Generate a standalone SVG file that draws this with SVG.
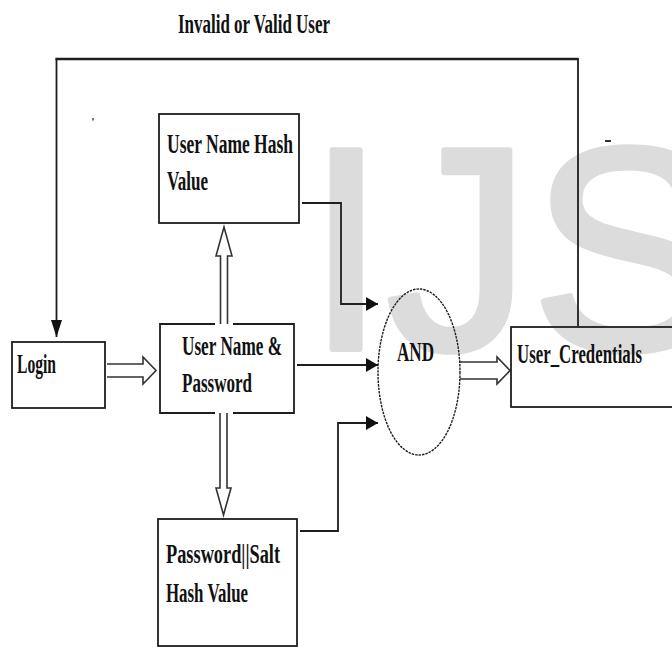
<svg xmlns="http://www.w3.org/2000/svg" width="672" height="647" viewBox="0 0 672 647">
<defs>
<style>
.box{fill:none;stroke:#1e1e1e;stroke-width:1.8}
.lbl{font-family:"Liberation Serif","Times New Roman",serif;font-weight:bold;font-size:27px;fill:#111}
.con{fill:none;stroke:#1e1e1e;stroke-width:1.8}
.hollow{fill:#fff;stroke:#333;stroke-width:1.6}
.wm{font-family:"Liberation Sans",Arial,sans-serif;font-size:289px;fill:#dcdcdc;stroke:#dcdcdc;stroke-width:6;stroke-linejoin:round}
</style>
<marker id="ah" markerUnits="userSpaceOnUse" markerWidth="13" markerHeight="15" refX="12" refY="7" orient="auto">
<path d="M0,0 L12,7 L0,14 z" fill="#111"/>
</marker>
<marker id="ahd" markerUnits="userSpaceOnUse" markerWidth="18" markerHeight="12" refX="17" refY="5.5" orient="auto">
<path d="M0,0 L17,5.5 L0,11 z" fill="#111"/>
</marker>
</defs>
<rect width="672" height="647" fill="#fff"/>
<text class="wm" x="306" y="349">IJS</text>
<rect x="92" y="118" width="2" height="2.5" fill="#777"/>
<rect x="605" y="140" width="6" height="2" fill="#333"/>

<text class="lbl" x="178" y="33" textLength="152" lengthAdjust="spacingAndGlyphs">Invalid or Valid User</text>

<g id="connectors">
<path class="con" d="M578,326 V59 H56.5 V337" marker-end="url(#ahd)"/>
<path d="M55.5,59 H578" stroke="#1e1e1e" stroke-width="2.6" fill="none"/>
<path class="con" d="M302,203 H341 V304 H378" marker-end="url(#ah)"/>
<path class="con" d="M297,365 H378" marker-end="url(#ah)"/>
<path class="con" d="M300,531 H338 V423 H378" marker-end="url(#ah)"/>
<path class="hollow" d="M107,364 H143 V357 L156,370.5 L143,384 V377 H107"/>
<rect x="215" y="321" width="18" height="6" fill="#fff"/>
<path class="hollow" d="M220.5,324 V256 H216 L224,227 L232,256 H227.5 V324"/>
<rect x="215" y="410" width="18" height="6" fill="#fff"/>
<path class="hollow" d="M220,413 V488 H216 L223.5,515 L231,488 H227 V413"/>
<path class="hollow" d="M460,362 H497 V357 L510,370.5 L497,384 V379 H460"/>
</g>

<g id="login">
<rect class="box" x="12" y="342" width="93" height="66"/>
<text class="lbl" x="17" y="373" textLength="39" lengthAdjust="spacingAndGlyphs">Login</text>
</g>
<g id="username-password">
<path class="box" d="M215,324 H160 V413 H215 M233,413 H294 V324 H233"/>
<text class="lbl" x="182" y="355" textLength="100" lengthAdjust="spacingAndGlyphs">User Name &amp;</text>
<text class="lbl" x="182" y="392" textLength="70" lengthAdjust="spacingAndGlyphs">Password</text>
</g>
<g id="username-hash">
<rect class="box" x="159" y="114" width="140" height="109"/>
<text class="lbl" x="167" y="153" textLength="126" lengthAdjust="spacingAndGlyphs">User Name Hash</text>
<text class="lbl" x="167" y="190" textLength="41" lengthAdjust="spacingAndGlyphs">Value</text>
</g>
<g id="password-salt-hash">
<rect class="box" x="158" y="519" width="139" height="127"/>
<text class="lbl" x="166" y="563" textLength="114" lengthAdjust="spacingAndGlyphs">Password||Salt</text>
<text class="lbl" x="166" y="602" textLength="82" lengthAdjust="spacingAndGlyphs">Hash Value</text>
</g>
<g id="and">
<ellipse cx="419" cy="372" rx="41" ry="83" fill="none" stroke="#1e1e1e" stroke-width="1.4" stroke-dasharray="2.5 1"/>
<text class="lbl" x="397" y="361" textLength="37" lengthAdjust="spacingAndGlyphs">AND</text>
</g>
<g id="user-credentials">
<rect class="box" x="511" y="327" width="170" height="80"/>
<text class="lbl" x="517" y="363" textLength="125" lengthAdjust="spacingAndGlyphs">User_Credentials</text>
</g>
</svg>
